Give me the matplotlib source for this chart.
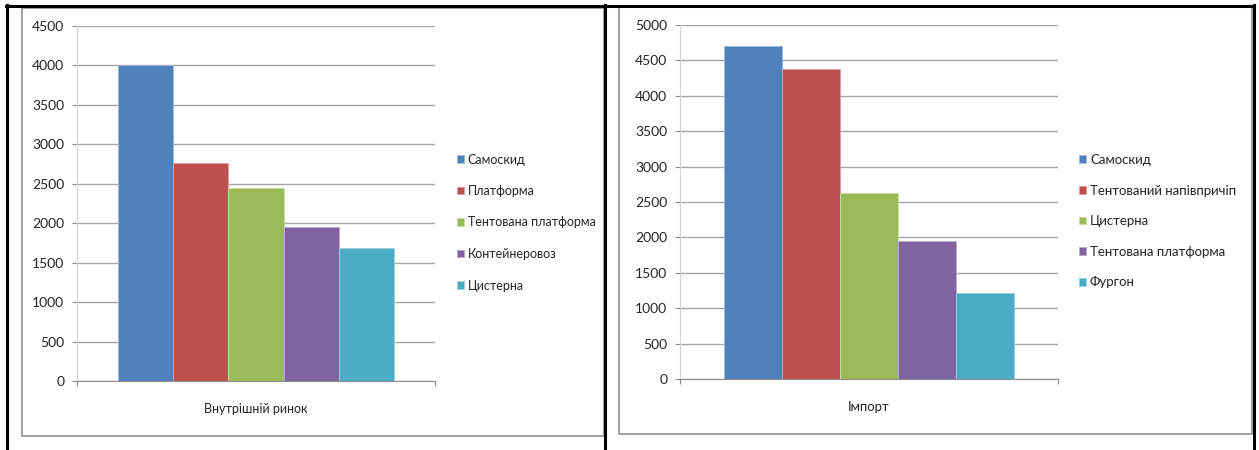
import matplotlib
matplotlib.use("Agg")
import matplotlib.pyplot as plt
from matplotlib.lines import Line2D
from matplotlib.patches import Rectangle
import matplotlib.colors as mcolors

# Domestic market (Внутрішній ринок)
domestic_labels = ["Самоскид", "Платформа", "Тентована платформа", "Контейнеровоз", "Цистерна"]
domestic_values = [4000, 2760, 2450, 1950, 1680]

# Import (Імпорт)
import_labels = ["Самоскид", "Тентований напівпричіп", "Цистерна", "Тентована платформа", "Фургон"]
import_values = [4700, 4380, 2630, 1950, 1220]

palette = ["#4F81BD", "#C0504D", "#9BBB59", "#8064A2", "#4BACC6"]

W, H = 1259, 450
plt.rcParams["font.family"] = ["Lato", "DejaVu Sans"]
fig = plt.figure(figsize=(W / 100, H / 100), dpi=100)


def fx(px):
    return px / W


def fy(py):
    return 1 - py / H


def lighter(c, amt=0.45):
    r, g, b = mcolors.to_rgb(c)
    return (r + (1 - r) * amt, g + (1 - g) * amt, b + (1 - b) * amt)


def draw_panel(box, labels, values, ymax, category, legend_xy, text_size, spacing):
    x0, x1, ytop, ybot = box
    ax = fig.add_axes([fx(x0), fy(ybot), fx(x1 - x0), (ybot - ytop) / H])
    n = len(values)
    w = 1 / (n + 1.5)
    handles = []
    for i, (lab, val) in enumerate(zip(labels, values)):
        b = ax.bar((i - (n - 1) / 2) * w, val, width=w, color=palette[i],
                   edgecolor=lighter(palette[i]), linewidth=0.7, label=lab, zorder=3)
        handles.append(b)
    ax.set_xlim(-0.5, 0.5)
    ax.set_ylim(0, ymax)
    ax.set_yticks(range(0, ymax + 1, 500))
    ax.set_xticks([-0.5, 0.5])
    ax.set_xticklabels([])
    ax.tick_params(axis="x", direction="out", length=3.6, width=0.8, color="#8c8c8c")
    ax.tick_params(axis="y", direction="out", length=3.6, width=0.8, color="#8c8c8c",
                   pad=5.5, labelsize=10, labelcolor="#262626")
    ax.grid(axis="y", color="#a6a6a6", linewidth=1.0, zorder=0)
    ax.set_axisbelow(True)
    for s in ("top", "right"):
        ax.spines[s].set_visible(False)
    ax.spines["left"].set_color("#d4d4d4")
    ax.spines["bottom"].set_color("#8c8c8c")
    ax.spines["bottom"].set_zorder(4)
    ax.set_xlabel(category, fontsize=text_size, color="#262626")
    ax.xaxis.set_label_coords(0.5, -22 / (ybot - ytop))
    ax.xaxis.label.set_va("top")
    hsize = 7 / (text_size * 100 / 72)
    fig.legend(handles=handles, loc="upper left",
               bbox_to_anchor=(fx(legend_xy[0]), fy(legend_xy[1])),
               frameon=False, fontsize=text_size, handlelength=hsize, handleheight=hsize,
               handletextpad=0.3, labelspacing=spacing, borderpad=0, borderaxespad=0,
               labelcolor="#262626")
    return ax


draw_panel((77, 435, 26, 381), domestic_labels, domestic_values, 4500,
           "Внутрішній ринок", (457, 153.5), 9, 1.56)
draw_panel((680, 1058, 24.7, 379.3), import_labels, import_values, 5000,
           "Імпорт", (1079, 154), 9.5, 1.41)

# chart frames
for (l, t, r, b) in [(22, 8, 604, 436), (619, 7, 1252, 434)]:
    fig.patches.append(Rectangle((fx(l), fy(b)), fx(r - l), (b - t) / H,
                                 transform=fig.transFigure, fill=False,
                                 edgecolor="#9a9a9a", linewidth=1.3, zorder=1))

# table lines around the two charts
black = dict(color="black", linewidth=2.2, transform=fig.transFigure, zorder=10)
fig.lines.append(Line2D([fx(6), fx(1254)], [fy(5.5), fy(5.5)], **black))
for xp in (6.5, 604.5, 1253.5):
    fig.lines.append(Line2D([fx(xp), fx(xp)], [fy(5), fy(450)], **black))

fig.savefig("out.png", dpi=100, facecolor="white")
